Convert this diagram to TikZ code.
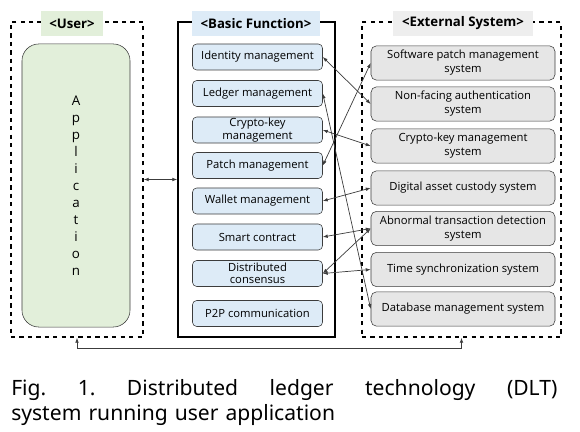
\documentclass[tikz,border=0pt]{standalone}
\usepackage{fontspec}
\setmainfont{Open Sans}
\newfontfamily\capfont{Noto Sans}
\usetikzlibrary{positioning,arrows.meta}
\definecolor{UserGreen}{RGB}{226,239,218}
\definecolor{FuncBlue}{RGB}{221,235,247}
\definecolor{ExtGray}{RGB}{230,230,230}
\definecolor{TitleGray}{RGB}{238,238,238}
\definecolor{LineGray}{RGB}{60,60,60}
\tikzset{
    framebox/.style={rectangle, draw=black, line width=1.1pt, inner sep=0pt},
    titlebox/.style={rectangle, inner sep=0pt, minimum height=0.625cm, font=\bfseries\fontsize{9.4}{11}\selectfont},
    funcnode/.style={rectangle, rounded corners=3pt, draw=LineGray, fill=FuncBlue, minimum width=3.25cm, minimum height=0.65cm, inner sep=0pt, align=center, font=\fontsize{8}{8.8}\selectfont},
    extnode/.style={rectangle, rounded corners=4pt, draw=LineGray, fill=ExtGray, minimum width=4.6cm, minimum height=0.86cm, inner sep=0pt, align=center, font=\fontsize{8}{10}\selectfont},
    link/.style={draw=LineGray, line width=0.5pt, {Latex[length=3.5pt,width=2.6pt]}-{Latex[length=3.5pt,width=2.6pt]}}
}
\begin{document}
\begin{tikzpicture}[x=0.025cm, y=-0.025cm]
    \useasboundingbox (0,0) rectangle (580,432);
    % Frames
    \node[framebox, dashed, minimum width=3.3cm, minimum height=7.875cm] (userframe) at (77,179.5) {};
    \node[framebox, minimum width=3.925cm, minimum height=7.875cm] (funcframe) at (256.5,179.5) {};
    \node[framebox, dashed, minimum width=4.975cm, minimum height=7.875cm] (extframe) at (461.5,179.5) {};
    % Titles
    \node[titlebox, fill=UserGreen, minimum width=1.55cm] (usertitle) at (72,23.5) {<User>};
    \node[titlebox, fill=FuncBlue, minimum width=3.2cm] (functitle) at (256,23.5) {<Basic Function>};
    \node[titlebox, fill=TitleGray, minimum width=3.5cm] (exttitle) at (463,23.5) {<External System>};
    % User
    \node[rectangle, rounded corners=0.42cm, draw=LineGray, fill=UserGreen, minimum width=2.7cm, minimum height=7.075cm, align=center, font=\fontsize{9.5}{12.1}\selectfont] (app) at (76,185.5) {A\\p\\p\\l\\i\\c\\a\\t\\i\\o\\n};
    % Basic function
    \node[funcnode] (identity) at (257.5,57) {Identity management};
    \node[funcnode] (ledger) at (257.5,93.5) {Ledger management};
    \node[funcnode] (cryptokey) at (257.5,130) {Crypto-key\\management};
    \node[funcnode] (patch) at (257.5,165.5) {Patch management};
    \node[funcnode] (wallet) at (257.5,201) {Wallet management};
    \node[funcnode] (smart) at (257.5,237) {Smart contract};
    \node[funcnode] (consensus) at (257.5,273.5) {Distributed\\consensus};
    \node[funcnode] (ptwop) at (257.5,313.5) {P2P communication};
    % External system
    \node[extnode] (swpatch) at (463,63) {Software patch management\\system};
    \node[extnode] (nonfacing) at (463,104) {Non-facing authentication\\system};
    \node[extnode] (keysys) at (463,146) {Crypto-key management\\system};
    \node[extnode] (custody) at (463,188) {Digital asset custody system};
    \node[extnode] (abnormal) at (463,228.5) {Abnormal transaction detection\\system};
    \node[extnode] (timesync) at (463,269.5) {Time synchronization system};
    \node[extnode] (database) at (463,309) {Database management system};
    % Links
    \draw[link] (identity.east) -- (nonfacing.west);
    \draw[link] (ledger.east) -- (database.west);
    \draw[link] (cryptokey.east) -- (keysys.west);
    \draw[link] (patch.east) -- (swpatch.west);
    \draw[link] (wallet.east) -- (custody.west);
    \draw[link] (smart.east) -- (abnormal.west);
    \draw[link] (consensus.east) -- (abnormal.west);
    \draw[link] (consensus.east) -- (timesync.west);
    \draw[link] (userframe.east) -- (funcframe.west);
    \draw[link] (userframe.south) -- ++(0,11) -| (extframe.south);
    % Caption
    \node[anchor=north west, inner sep=0pt, text width=13.65cm, align=left, font=\capfont\fontsize{15}{17.8}\selectfont] (caption) at (11,379)
        {Fig.\hfill 1.\hfill Distributed\hfill ledger\hfill technology\hfill (DLT)\\system running user application};
\end{tikzpicture}
\end{document}
